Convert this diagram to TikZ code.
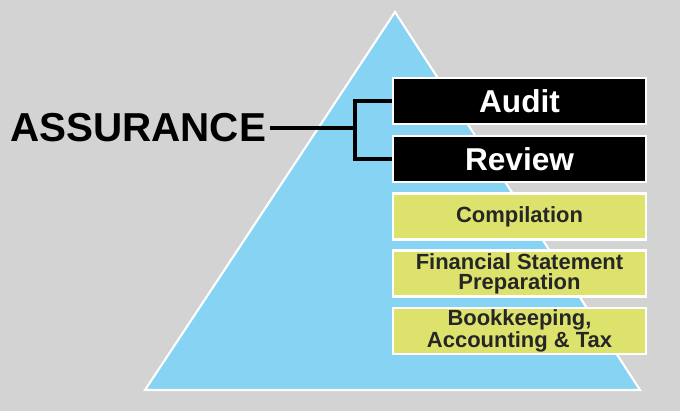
\documentclass[tikz,border=0pt]{standalone}
\usepackage{fontspec}
\setmainfont{Liberation Sans}
\usetikzlibrary{calc}
\definecolor{bg}{HTML}{D3D3D3}
\definecolor{sky}{HTML}{87D3F3}
\definecolor{lime}{HTML}{DCE26C}
\tikzset{
  tier/.style={draw=white, line width=1.5pt, minimum width=5.06cm, minimum height=0.92cm, align=center, font=\bfseries, inner sep=0pt},
  topbox/.style={tier, fill=black, text=white, font=\bfseries\fontsize{18}{20}\selectfont},
  lowbox/.style={tier, fill=lime, text=black!85, font=\bfseries\fontsize{12.5}{11.5}\selectfont},
  brace/.style={draw=black, line width=2.2pt},
}
\begin{document}
\begin{tikzpicture}[x=0.02cm,y=-0.02cm]
  \useasboundingbox[fill=bg] (0,0) rectangle (680,411);
  % pyramid
  \coordinate (apex) at (395,12);
  \coordinate (bl) at (145,390);
  \coordinate (br) at (640,390);
  \fill[sky, draw=white, line width=1.2pt] (apex) -- (br) -- (bl) -- cycle;

  \node[topbox] (audit) at (519.5,101) {Audit};
  \node[topbox] (review) at (519.5,159) {Review};
  \node[lowbox] (comp) at (519.5,216.5) {Compilation};
  \node[lowbox] (fsp) at (519.5,273.5) {Financial Statement\\Preparation};
  \node[lowbox] (book) at (519.5,331) {Bookkeeping,\\Accounting \& Tax};

  \node[font=\bfseries\fontsize{23}{26}\selectfont, anchor=east, inner sep=2pt] (assur) at (270,128) {ASSURANCE};
  \coordinate (joint) at (355,128);
  \draw[brace] (assur.east) -- (joint);
  \draw[brace] (audit.west) -| (joint) |- (review.west);
\end{tikzpicture}
\end{document}
